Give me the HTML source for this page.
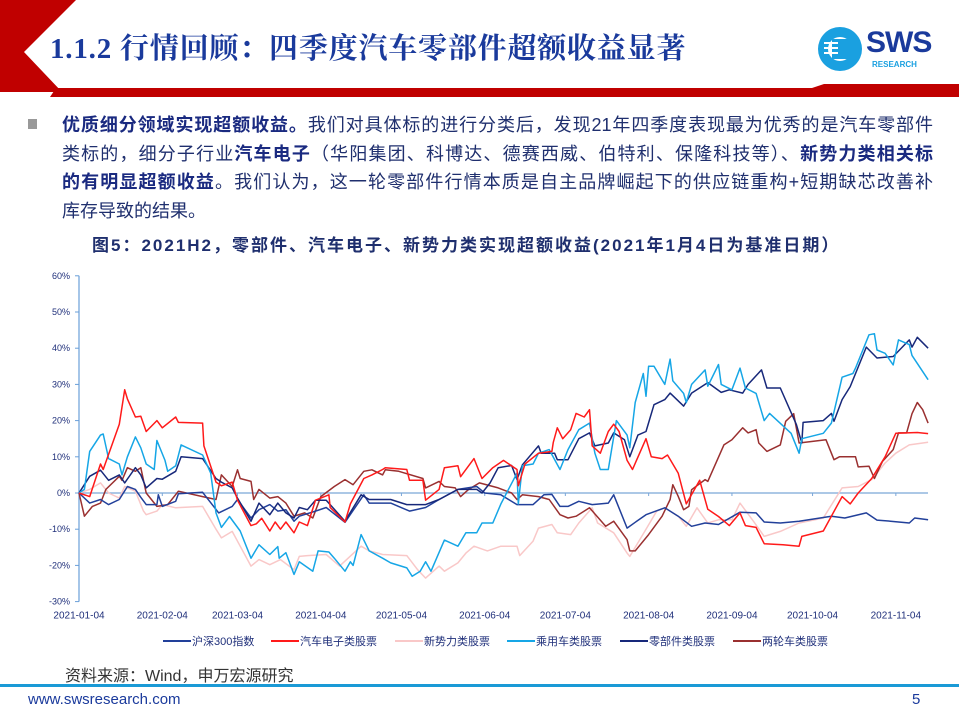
<!DOCTYPE html>
<html><head><meta charset="utf-8">
<style>
html,body{margin:0;padding:0;}
body{width:959px;height:719px;position:relative;overflow:hidden;background:#fff;font-family:"Liberation Sans","Noto Sans CJK SC",sans-serif;}
.abs{position:absolute;}
.para{position:absolute;left:62px;width:871px;font-size:18px;color:#1f2f6e;line-height:28.5px;}
.para .ln{display:block;text-align:justify;text-align-last:justify;height:28.5px;}
.para .ln.last{text-align-last:left;}
b{font-weight:bold;color:#1a2a80;}
</style></head><body>
<svg class="abs" style="left:0;top:0" width="959" height="100">
  <polygon points="0,0 76,0 24,52 62,92 0,92" fill="#c00000"/>
  <polygon points="56,88 812,88 824,84 959,84 959,97 50,97" fill="#c00000"/>
</svg>
<div class="abs" style="left:50px;top:26px;font-family:'Liberation Serif','Noto Serif CJK SC',serif;font-weight:bold;font-size:29px;letter-spacing:0.8px;color:#1a3a9c;white-space:nowrap;">1.1.2 行情回顾：四季度汽车零部件超额收益显著</div>
<div class="abs" style="left:818px;top:24px;width:130px;height:50px;">
  <svg width="48" height="50" style="position:absolute;left:0;top:0">
    <circle cx="22" cy="25" r="22" fill="#1aa0e0"/>
    <circle cx="22" cy="25" r="12" fill="#fff"/>
    <rect x="14" y="15" width="20" height="20" fill="#1aa0e0"/>
    <rect x="6" y="18" width="14" height="2" fill="#fff"/><rect x="6" y="23" width="14" height="2" fill="#fff"/><rect x="6" y="28" width="14" height="2" fill="#fff"/>
  </svg>
  <div style="position:absolute;left:48px;top:2px;font-weight:bold;font-size:30px;color:#1a3a9c;letter-spacing:-1px;">SWS</div>
  <div style="position:absolute;left:54px;top:36px;font-weight:bold;font-size:8px;color:#1aa0e0;">RESEARCH</div>
</div>
<div class="abs" style="left:28px;top:119px;width:9px;height:10px;background:#999;"></div>
<div class="para" style="top:111px">
<span class="ln"><b>优质细分领域实现超额收益。</b>我们对具体标的进行分类后，发现21年四季度表现最为优秀的是汽车零部件</span>
<span class="ln">类标的，细分子行业<b>汽车电子</b>（华阳集团、科博达、德赛西威、伯特利、保隆科技等）、<b>新势力类相关标</b></span>
<span class="ln"><b>的有明显超额收益</b>。我们认为，这一轮零部件行情本质是自主品牌崛起下的供应链重构+短期缺芯改善补</span>
<span class="ln last">库存导致的结果。</span>
</div>
<div class="abs" style="left:92px;top:231px;font-size:17px;letter-spacing:2px;font-weight:bold;color:#1f2f6e;white-space:nowrap;">图5：2021H2，零部件、汽车电子、新势力类实现超额收益(2021年1月4日为基准日期）</div>

<svg id="chart" class="abs" style="left:0;top:260px" width="959" height="400"></svg>

<div class="abs" style="left:65px;top:662px;font-size:16px;color:#333;">资料来源：Wind，申万宏源研究</div>
<div class="abs" style="left:0;top:684px;width:959px;height:3px;background:#1a9ad6;"></div>
<div class="abs" style="left:28px;top:691px;font-size:15px;color:#1a3a9c;">www.swsresearch.com</div>
<div class="abs" style="left:912px;top:691px;font-size:15px;color:#1a3a9c;">5</div>

<script>
const yTicks=[60,50,40,30,20,10,0,-10,-20,-30];
const xTickLabels=["2021-01-04","2021-02-04","2021-03-04","2021-04-04","2021-05-04","2021-06-04","2021-07-04","2021-08-04","2021-09-04","2021-10-04","2021-11-04"];
const xTickDays=[0,31,59,90,120,151,181,212,243,273,304];
const seriesNames=["沪深300指数","汽车电子类股票","新势力类股票","乘用车类股票","零部件类股票","两轮车类股票"];

const hsDays=[0,4,8,11,15,18,21,23,25,29,29.5,31,36,37,46,52,57,59,64,67,71,74,77,80,82,88,92,99,106,108,116,123,129,134,141,148,151,157,163,169,173,176,179,182,186,191,197,199,204,207,211,218,223,228,233,238,246,252,255,261,268,280,285,293,297,302,309,311,316];
const hsVals=[0,-2.8,-1.8,-3.2,-1.8,1.8,1,-1.2,-3.2,-3.2,-0.5,-3.7,-2.3,-0.2,0.2,-5.5,-3.7,-1.8,-6.9,-4.6,-3.2,-5,-4.6,-7.8,-6.4,-5,-4,-8.1,-0.5,-2.8,-2.8,-5,-4,-1.8,1,1.8,0,-0.5,-3.2,-3.2,-0.5,-0.4,-3.7,-3.7,-2.3,-3.2,-2.8,-0.5,-9.7,-8.1,-6,-4.1,-6.4,-9.2,-8.3,-8.7,-5.3,-5.5,-8,-8.3,-7.8,-6.4,-6.9,-5.5,-7.5,-7.8,-8.3,-6.9,-7.4];

const elDays=[0,4,8,9,15,17,18,21,23,25,29,31,36,37,46,46.5,51,53,57,59,64,66,68,71,73,75,77,80,82,85,88,93,93.5,99,101,106,109,113,114,122,123,128,129,134,136,141,142,147,150,154,158,163,163.5,166,171,176,176.5,178,180,183,185,188,190,191,194,197,199,201,204,206,211,213,217,219,223,226,231,234,238,242,246,248,252,255,262,268,269,277,284,287,290,295,300,304,312,316];
const elVals=[0,-1,8,6.5,19,28.5,26,21,21.2,17,20,18,21,19.5,19.3,13,3,2,3,-2,-9,-8.5,-7,-10.5,-8,-10,-8,-11,-8,-9,-2,-0.5,-4,-8,-3,4,5,6.5,7,6.5,3.5,3.5,-2,1,7,7.5,4.5,9.5,4,7,9,6.5,2,8,11,11.5,14,18,15,17.5,22,21,23,13,11,17,19,17,9,6.5,15,10,9.5,10.5,5.5,-3,3.5,-4.5,-6.5,-9,-5.5,-9,-9.5,-14,-14.3,-14.7,-12,-10.5,-1,-3,0,4,10,16.5,16.7,16.4];

const nvDays=[0,4,8,11,15,17,21,24,25,29,31,36,46,51,53,57,60,64,67,71,75,80,82,85,92,97,105,108,113,122,126,129,134,136,141,144,147,152,157,163,164,169,171,176,178,183,186,191,193,199,204,205,211,215,218,223,226,230,234,238,243,246,251,255,261,268,277,284,290,295,300,304,309,316];
const nvVals=[0,1,2.8,0,-1.4,1.8,0.5,-5,-6,-5,-3.2,-4.1,-3.7,-10,-12.4,-10.6,-14.7,-20.2,-18.4,-19.8,-18.4,-21.2,-17.5,-17.3,-17,-20.2,-14.7,-16,-17,-17.3,-21.2,-23.5,-20.2,-21.6,-19.3,-16.6,-14.7,-16,-14.7,-14.7,-17.3,-13.3,-9.7,-8.7,-11,-11.5,-8.3,-4.1,-8.3,-11,-16.6,-17.5,-10,-5,-4.1,-6.4,-9.2,-4.1,-8.3,-7.4,-7.4,-2.8,-7.8,-12,-10.6,-8.3,-6.9,1.4,1.8,3.7,8.3,11,13.3,14];

const pcDays=[0,2,4,8,9,11,15,16,18,21,23,25,28,29,32,33,36,38,46,49,51,53,56,60,64,67,71,74,74.5,77,80,82,87,89,93,95,99,101,102,105,108,113,116,122,124,127,129,131,136,141,144,148,150,154,157,163,163.5,165,169,171,175,179,182,186,190,192,194,197,200,204,205,207,210,211,212,214,218,220,221,225,226,228,233,234,238,239,243,246,248,252,255,257,265,268,269,277,280,284,288,289,294,296,297,300,303,305,309,310,316];
const pcVals=[0,1,11.5,16,16.3,9.5,8,5,10,15.5,12.5,8,6.5,14.5,9,6,7.5,13.3,10.5,5.5,-5.5,-9.5,-6.5,-10.5,-18,-14.3,-17,-14.8,-18,-16.5,-22.5,-19,-21.6,-16,-16.3,-18,-21.6,-19,-20,-11.5,-16,-18,-19.3,-20.7,-23,-21.6,-19,-21.6,-13,-14.7,-11,-11,-8.3,-8.3,-3,5.5,-3,7.5,8,11,12,6.5,12,17.5,19.3,11,6.5,6.5,20,16,12.5,25,33,26.7,35,35,30,37,31,27.5,25,30,34,29.5,35.5,30,28.5,34.5,29,27.5,20,22,16.5,11,15,16.5,19.3,32,33,34.5,43.7,44,39.5,38.6,35.4,42.3,41,38,31.3];

const cpDays=[0,4,8,11,15,17,21,23,25,29,31,36,38,46,51,53,57,59,64,67,71,74,77,80,82,85,88,92,99,105,108,116,122,129,134,141,148,150,153,156,161,163,165,171,172,177,178,182,186,190,192,197,199,203,205,208,211,214,218,220,225,228,234,239,242,247,249,254,256,261,267,269,269.5,277,280,281,284,287,293,297,303,309,310,312,316];
const cpVals=[0,4.6,6.3,3.5,5,2.8,7,5,1.4,4,3.8,6,10,9.5,4,3,1.4,-1.4,-7.8,-2.8,-6,-2.8,-5.5,-6.9,-4,-4.6,-2,-2,-7.8,-0.5,-1.8,-1.8,-3.2,-3.2,-1.8,1,1,0,2.8,7,7.6,3.7,7.8,13,11,11,9.2,9.2,15,16.6,13,13.8,16.6,14.7,10,16,17,24.4,25.8,27.6,24,27.6,30.5,27.8,28.5,27.6,30,34,29,29,18.9,13.8,19.5,20,22,19.8,25.8,29.4,40.3,37.3,37.7,42.3,40.3,43,40];

const twDays=[0,2,5,8,10,15,16,18,21,23,25,29,33,37,46,51,53,57,59,60,64,65,67,71,74,77,80,84,87,90,95,99,102,106,109,113,114,119,128,129,134,136,140,142,145,149,156,161,163,165,171,175,179,182,185,190,196,199,204,205,207,212,217,220,221,223,225,227,228,233,234,240,243,247,249,252,253,256,261,263,266,268,278,281,283,289,290,294,296,299,303,305,308,310,312,314,316];
const twVals=[0,-6.4,-3.7,-2.8,1,4.6,3.5,7,6,7,0,-3.7,-3.2,0.5,-1,-1.8,5,1.8,6.4,4,3.2,-1.8,1,-1.4,-1,-2.8,-6.4,-5.5,-6.9,-1,1.8,3.7,2.3,6,6.4,5,6.4,6,4,1.4,3.2,1.8,1.4,-1,1,2.8,1.4,0,-1.8,-0.5,-1,-1.8,-6,-6.9,-6.4,-4.1,-9.2,-7.8,-12.9,-16,-16,-11.5,-6.4,-1.8,2.3,-0.9,-4.6,-3.7,0.9,3.7,3.2,13.3,14.7,18,16.6,17.5,13.8,11.5,13.3,19.8,21.9,13.8,14.7,9.2,10,10,7.2,7.4,4,8.7,12,16.6,16.6,21.9,25,23,19.3];

const colors=["#22409a","#ff1a1a","#f9c8c8","#16a6e6","#17287a","#9a3030"];
const NS="http://www.w3.org/2000/svg";
const svg=document.getElementById('chart');
const OY=260;
function xs(d){return 79+d*2.687;}
function ys(v){return 493-OY-v*3.62;}
function mk(tag,attrs){const e=document.createElementNS(NS,tag);for(const k in attrs)e.setAttribute(k,attrs[k]);svg.appendChild(e);return e;}

let ax=mk('line',{x1:79,y1:ys(60),x2:79,y2:ys(-30),stroke:'#6a9fd8','stroke-width':1.2});


yTicks.forEach(v=>{
  const t=mk('line',{x1:75,x2:79,y1:ys(v),y2:ys(v),stroke:'#6a9fd8'});
  
  
  const l=mk('text',{x:70,y:ys(v)+3,'text-anchor':'end','font-size':9,fill:'#1f2f7a','font-family':'Liberation Sans, sans-serif'});
  l.textContent=v+'%';
  
  
});
let zl=mk('line',{x1:79,y1:ys(0),x2:928,y2:ys(0),stroke:'#7aa6d8','stroke-width':1.2});


xTickDays.forEach((d,i)=>{
  const t=mk('line',{x1:xs(d),x2:xs(d),y1:ys(0),y2:ys(0)+3,stroke:'#7aa6d8'});
  
  
  const l=mk('text',{x:xs(d),y:ys(-30)+17,'text-anchor':'middle','font-size':10,fill:'#1f2f7a','font-family':'Liberation Sans, sans-serif'});
  l.textContent=xTickLabels[i];
  
  
});
const allDays=[hsDays,elDays,nvDays,pcDays,cpDays,twDays];
const allVals=[hsVals,elVals,nvVals,pcVals,cpVals,twVals];
const order=[2,5,0,4,3,1];
const lineNames=['hs300-line','auto-electronics-line','new-energy-line','passenger-car-line','auto-parts-line','two-wheeler-line'];
order.forEach(i=>{
  const pts=allDays[i].map((d,j)=>xs(d).toFixed(1)+','+ys(allVals[i][j]).toFixed(1)).join(' ');
  const p=mk('polyline',{points:pts,fill:'none',stroke:colors[i],'stroke-width':1.5,'stroke-linejoin':'round'});
  
  
});
const legX=[163,271,395,507,620,733];
seriesNames.forEach((n,i)=>{
  const y=641-OY;
  const l=mk('line',{x1:legX[i],x2:legX[i]+28,y1:y,y2:y,stroke:colors[i],'stroke-width':2});
  
  
  const t=mk('text',{x:legX[i]+29,y:y+4,'font-size':11,fill:'#1f2f7a','font-family':'Liberation Sans, Noto Sans CJK SC, sans-serif'});
  t.textContent=n;
  
  
});
</script>
</body></html>
